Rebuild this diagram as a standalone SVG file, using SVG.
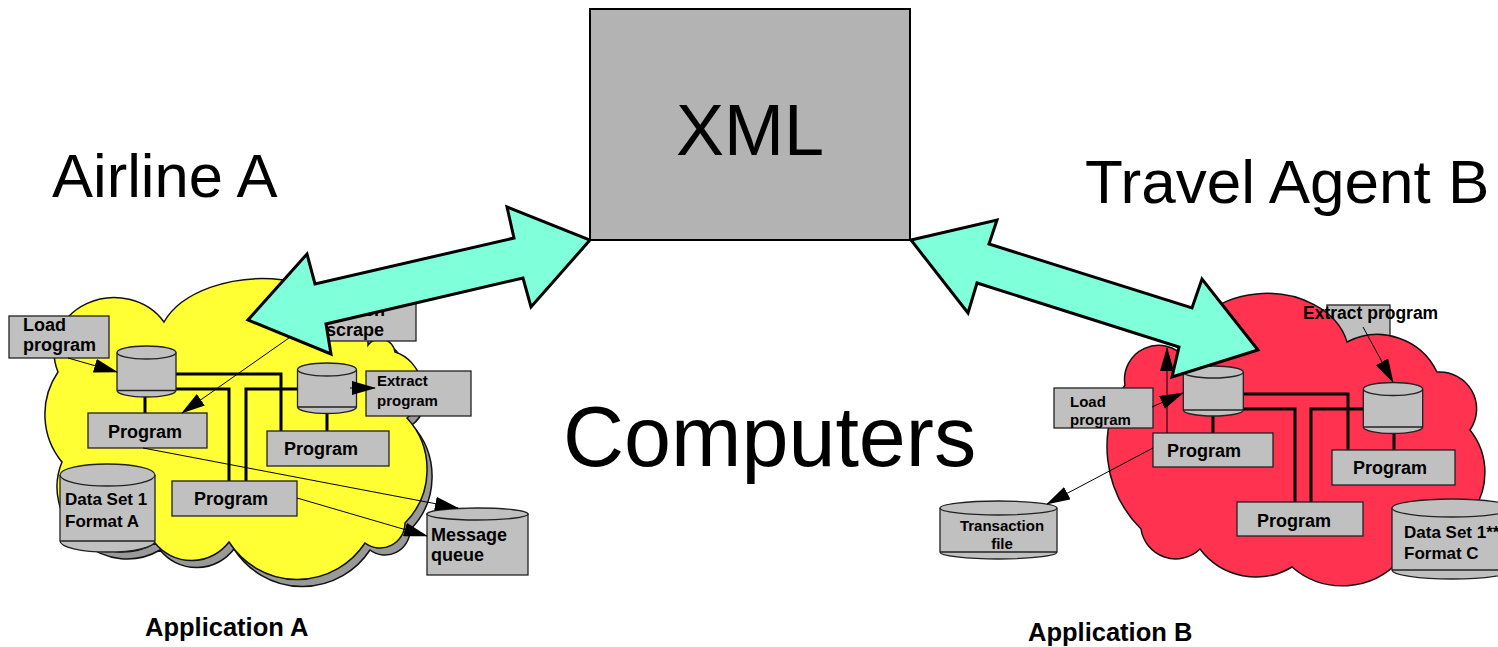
<svg xmlns="http://www.w3.org/2000/svg" width="1498" height="647" viewBox="0 0 1498 647">
<style>
.t{font-family:"Liberation Sans",Arial,sans-serif;fill:#000}
.b{font-family:"Liberation Sans",Arial,sans-serif;font-weight:bold;fill:#000}
.box{fill:#c0c0c0;stroke:#222;stroke-width:1.3}
.cyl{fill:#c0c0c0;stroke:#222;stroke-width:1.3}
.thick{fill:none;stroke:#000;stroke-width:3}
.thin{fill:none;stroke:#000;stroke-width:1;marker-end:url(#ah)}
.big{fill:#80ffdb;stroke:#000;stroke-width:3;stroke-linejoin:miter}
.cloud{stroke:#111;stroke-width:1.5}
</style>
<defs>
<marker id="ah" markerUnits="userSpaceOnUse" markerWidth="24" markerHeight="14" refX="23" refY="7" orient="auto">
<path d="M0,0 L24,7 L0,14 z" fill="#000"/>
</marker>
</defs>

<g id="xml">
<rect x="590" y="9" width="320" height="231" fill="#b3b3b3" stroke="#000" stroke-width="2"/>
<text class="t" x="750" y="155" font-size="72" text-anchor="middle">XML</text>
</g>
<g id="title-airline"><text class="t" x="52" y="197" font-size="61.5">Airline A</text></g>
<g id="title-travel"><text class="t" x="1085" y="203" font-size="62">Travel Agent B</text></g>
<g id="computers"><text class="t" x="563" y="466" font-size="84.5">Computers</text></g>

<!-- Left cloud -->
<g id="cloud-a">
<path class="cloud" transform="translate(5,7)" fill="#999" d="M62,462 A75,75 0 0 1 58,372 A60,55 0 0 1 164,322 A105,65 0 0 1 368,345 A15,15 0 0 1 395,352 A38,38 0 0 1 407,418 A76,76 0 0 1 405,523 A25,25 0 0 1 365,543 A81,81 0 0 1 229,542 A47,47 0 0 1 155,543 A65,65 0 0 1 62,462 Z"/>
<path class="cloud" fill="#ffff33" d="M62,462 A75,75 0 0 1 58,372 A60,55 0 0 1 164,322 A105,65 0 0 1 368,345 A15,15 0 0 1 395,352 A38,38 0 0 1 407,418 A76,76 0 0 1 405,523 A25,25 0 0 1 365,543 A81,81 0 0 1 229,542 A47,47 0 0 1 155,543 A65,65 0 0 1 62,462 Z"/>
</g>

<g id="connectors-a">
<polyline class="thick" points="176,374 281,374 281,431"/>
<polyline class="thick" points="176,389 229,389 229,481"/>
<polyline class="thick" points="298,389 246,389 246,481"/>
<line class="thick" x1="145" y1="396" x2="145" y2="413"/>
<line class="thick" x1="327" y1="412" x2="327" y2="431"/>
</g>

<g id="screen-scrape">
<rect class="box" x="316" y="298" width="100" height="43"/>
<text class="b" x="325" y="316" font-size="18">Screen</text>
<text class="b" x="326" y="336" font-size="18">scrape</text>
</g>
<g id="load-a">
<rect class="box" x="9" y="316" width="100" height="42"/>
<text class="b" x="23" y="331" font-size="18">Load</text>
<text class="b" x="23" y="351" font-size="18">program</text>
</g>
<g id="cyl-a1">
<path class="cyl" d="M117,352.5 V390.5 A29.5,6.5 0 0 0 176,390.5 V352.5"/>
<ellipse class="cyl" cx="146.5" cy="352.5" rx="29.5" ry="6.5"/>
<line x1="117" y1="390.5" x2="176" y2="390.5" stroke="#222" stroke-width="1.3"/>
</g>
<g id="cyl-a2">
<path class="cyl" d="M297.5,369.5 V407 A29.5,6.5 0 0 0 356.5,407 V369.5"/>
<ellipse class="cyl" cx="327" cy="369.5" rx="29.5" ry="6.5"/>
<line x1="297.5" y1="407" x2="356.5" y2="407" stroke="#222" stroke-width="1.3"/>
</g>
<g id="extract-a">
<rect class="box" x="366" y="371" width="105" height="45"/>
<text class="b" x="377" y="386" font-size="15">Extract</text>
<text class="b" x="377" y="406" font-size="15">program</text>
</g>
<g id="prog-a1">
<rect class="box" x="88" y="413" width="119" height="35"/>
<text class="b" x="108" y="438" font-size="18">Program</text>
</g>
<g id="prog-a2">
<rect class="box" x="267" y="431" width="122" height="35"/>
<text class="b" x="284" y="455" font-size="18">Program</text>
</g>
<g id="prog-a3">
<rect class="box" x="172" y="481" width="125" height="35"/>
<text class="b" x="194" y="505" font-size="18">Program</text>
</g>
<g id="dataset-a">
<path class="cyl" d="M60,475 V541 A47.5,11 0 0 0 155,541 V475"/>
<ellipse class="cyl" cx="107.5" cy="475" rx="47.5" ry="11"/>
<line x1="60" y1="541" x2="155" y2="541" stroke="#222" stroke-width="1.3"/>
<text class="b" x="65" y="505" font-size="17">Data Set 1</text>
<text class="b" x="65" y="527" font-size="17">Format A</text>
</g>
<g id="msgqueue">
<rect class="cyl" x="427" y="514" width="101" height="61"/>
<ellipse class="cyl" cx="477.5" cy="514" rx="50.5" ry="6"/>
<text class="b" x="431" y="541" font-size="18">Message</text>
<text class="b" x="431" y="561" font-size="18">queue</text>
</g>
<g id="arrows-a">
<line class="thin" x1="68" y1="358" x2="117" y2="372"/>
<line class="thin" x1="350" y1="388" x2="375" y2="388"/>
<line class="thin" x1="316" y1="319" x2="182" y2="413"/>
<line class="thin" x1="143" y1="448" x2="458" y2="508"/>
<line class="thin" x1="297" y1="498" x2="427" y2="536"/>
</g>
<g id="app-a"><text class="b" x="145" y="636" font-size="25.5">Application A</text></g>

<!-- Right cloud -->
<g id="extract-b-box"><rect class="box" x="1327" y="305" width="63" height="40"/></g>
<g id="cloud-b">
<path class="cloud" fill="#ff3350" d="M1125,385 A34,34 0 0 1 1185,358 A82,62 0 0 1 1347,342 A66,66 0 0 1 1437,372 A37,37 0 0 1 1470,430 A68,68 0 0 1 1470,515 A50,50 0 0 1 1400,560 A77,77 0 0 1 1292,567 A70,70 0 0 1 1200,549 A35,35 0 0 1 1141,529 A116,116 0 0 1 1125,385 Z"/>
</g>
<g id="connectors-b">
<polyline class="thick" points="1243,394 1348,394 1348,450"/>
<polyline class="thick" points="1243,409 1295,409 1295,502"/>
<polyline class="thick" points="1363,409 1311,409 1311,502"/>
<line class="thick" x1="1213" y1="415" x2="1213" y2="433"/>
<line class="thick" x1="1394" y1="432" x2="1394" y2="450"/>
</g>
<g id="extract-b"><text class="b" x="1303" y="319" font-size="17.5">Extract program</text></g>
<g id="cyl-b1">
<path class="cyl" d="M1183.3,372 V410 A30,6 0 0 0 1243.3,410 V372"/>
<ellipse class="cyl" cx="1213.3" cy="372" rx="30" ry="6"/>
<line x1="1183.3" y1="410" x2="1243.3" y2="410" stroke="#222" stroke-width="1.3"/>
</g>
<g id="cyl-b2">
<path class="cyl" d="M1363.3,389 V427 A29.7,6.5 0 0 0 1422.7,427 V389"/>
<ellipse class="cyl" cx="1393" cy="389" rx="29.7" ry="6.5"/>
<line x1="1363.3" y1="427" x2="1422.7" y2="427" stroke="#222" stroke-width="1.3"/>
</g>
<g id="load-b">
<rect class="box" x="1054" y="388" width="99" height="40"/>
<text class="b" x="1070" y="407" font-size="15">Load</text>
<text class="b" x="1070" y="425" font-size="15">program</text>
</g>
<g id="prog-b1">
<rect class="box" x="1153" y="433" width="120" height="34"/>
<text class="b" x="1167" y="457" font-size="18">Program</text>
</g>
<g id="prog-b2">
<rect class="box" x="1332" y="450" width="123" height="35"/>
<text class="b" x="1353" y="474" font-size="18">Program</text>
</g>
<g id="prog-b3">
<rect class="box" x="1237" y="502" width="126" height="34"/>
<text class="b" x="1257" y="527" font-size="18">Program</text>
</g>
<g id="transaction">
<path class="cyl" d="M940,508 V552 A58.5,7 0 0 0 1057,552 V508"/>
<ellipse class="cyl" cx="998.5" cy="508" rx="58.5" ry="7"/>
<line x1="940" y1="552" x2="1057" y2="552" stroke="#222" stroke-width="1.3"/>
<text class="b" x="1002" y="531" font-size="15" text-anchor="middle">Transaction</text>
<text class="b" x="1002" y="549" font-size="15" text-anchor="middle">file</text>
</g>
<g id="dataset-c">
<path class="cyl" d="M1392,508 V570 A60,9 0 0 0 1512,570 V508"/>
<ellipse class="cyl" cx="1452" cy="508" rx="60" ry="9"/>
<line x1="1392" y1="570" x2="1512" y2="570" stroke="#222" stroke-width="1.3"/>
<text class="b" x="1404" y="538" font-size="17">Data Set 1**</text>
<text class="b" x="1404" y="559" font-size="17">Format C</text>
</g>
<g id="app-b"><text class="b" x="1028" y="641" font-size="25.5">Application B</text></g>

<!-- Big double arrows -->
<g id="link-left">
<polygon class="big" points="590,240 531,307 523,278 326,324 331,354 248,320 307,254 315,284 514,238 507,207"/>
</g>
<g id="link-right">
<polygon class="big" points="911,240 997,220 989,244 1192,308 1202,279 1258,350 1172,377 1179,347 977,283 968,313"/>
</g>

<g id="arrows-b">
<line class="thin" x1="1152" y1="407" x2="1183" y2="393"/>
<line class="thin" x1="1167" y1="433" x2="1167" y2="348"/>
<line class="thin" x1="1153" y1="448" x2="1047" y2="504"/>
<line class="thin" x1="1363" y1="327" x2="1393" y2="382"/>
</g>
</svg>
